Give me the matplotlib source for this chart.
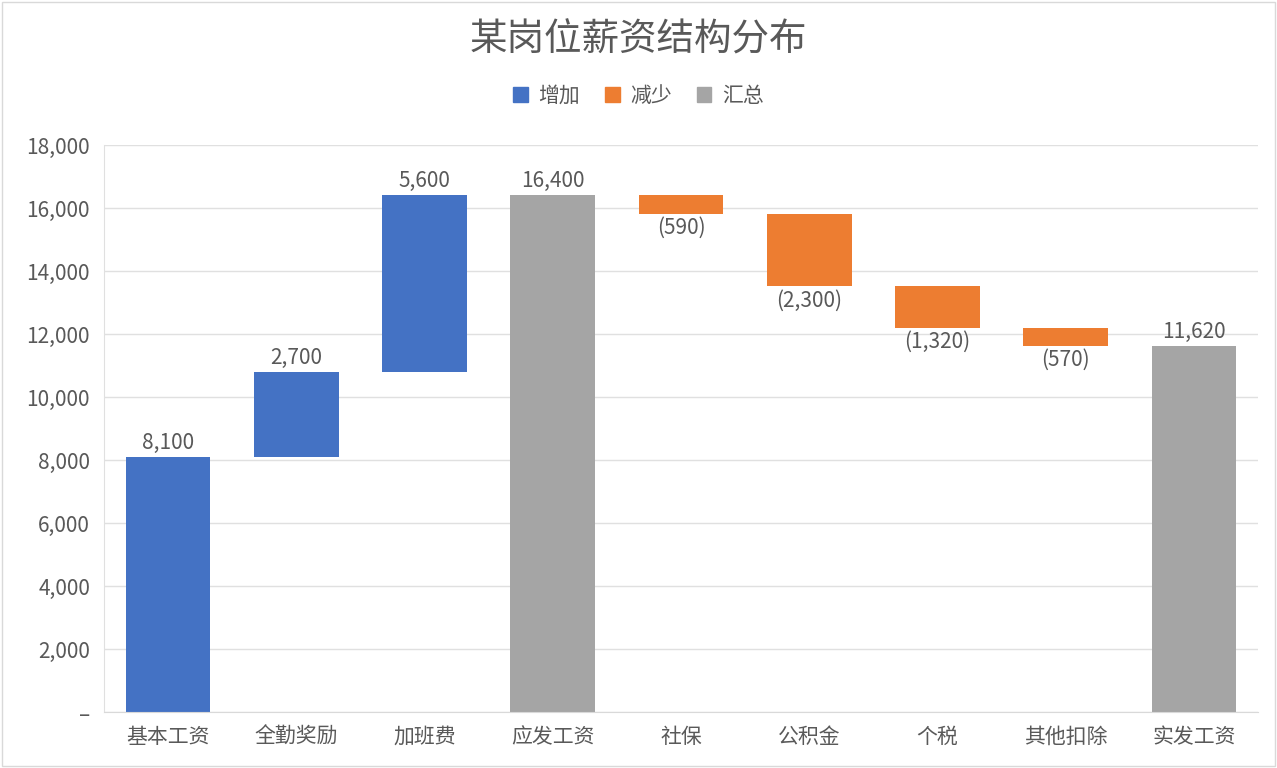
import matplotlib
matplotlib.use("Agg")
import matplotlib.pyplot as plt
from matplotlib.patches import Patch, Rectangle
from matplotlib.ticker import FuncFormatter

plt.rcParams['font.family'] = ['Noto Sans CJK SC', 'DejaVu Sans']

categories = ["基本工资", "全勤奖励", "加班费", "应发工资", "社保", "公积金", "个税", "其他扣除", "实发工资"]
changes = [8100, 2700, 5600, 16400, -590, -2300, -1320, -570, 11620]
kinds = ["inc", "inc", "inc", "total", "dec", "dec", "dec", "dec", "total"]
legend_labels = ["增加", "减少", "汇总"]
title = "某岗位薪资结构分布"

colors = {"inc": "#4472C4", "dec": "#ED7D31", "total": "#A5A5A5"}
text_color = "#595959"
fs = 15

fig = plt.figure(figsize=(12.77, 7.68), dpi=100)
ax = fig.add_axes([104/1277, 1-712/768, (1258-104)/1277, (712-145)/768])

running = 0
for i, (v, k) in enumerate(zip(changes, kinds)):
    if k == "total":
        running = v
        ax.bar(i, v, bottom=0, width=0.66, color=colors[k])
        ax.text(i, v + 100, f"{v:,}", ha="center", va="bottom", fontsize=fs, color=text_color)
    elif k == "inc":
        ax.bar(i, v, bottom=running, width=0.66, color=colors[k])
        running += v
        ax.text(i, running + 100, f"{v:,}", ha="center", va="bottom", fontsize=fs, color=text_color)
    else:
        running += v
        ax.bar(i, -v, bottom=running, width=0.66, color=colors[k])
        ax.text(i, running - 100, f"({-v:,})", ha="center", va="top", fontsize=fs, color=text_color)

ax.set_ylim(0, 18000)
ax.set_xlim(-0.5, len(categories) - 0.5)
ax.set_yticks(range(0, 18001, 2000))
ax.yaxis.set_major_formatter(FuncFormatter(lambda y, p: "–" if y == 0 else f"{int(y):,}"))
ax.set_xticks(range(len(categories)))
ax.set_xticklabels(categories)
ax.tick_params(axis="both", length=0, labelsize=fs, colors=text_color, pad=10)
ax.grid(axis="y", color="#E0E0E0", linewidth=1)
ax.set_axisbelow(True)
for s in ["top", "right"]:
    ax.spines[s].set_visible(False)
ax.spines["left"].set_color("#E0E0E0")
ax.spines["bottom"].set_color("#D9D9D9")

fig.text(0.5, 1 - 40/768, title, ha="center", va="center", fontsize=27, color=text_color)
handles = [Patch(color=colors[k]) for k in ["inc", "dec", "total"]]
fig.legend(handles, legend_labels, loc="center", bbox_to_anchor=(0.5, 1 - 96/768), ncol=3,
           frameon=False, fontsize=fs, handlelength=0.7, handleheight=0.7, handletextpad=0.5,
           columnspacing=1.2, labelcolor=text_color)

fig.patches.append(Rectangle((2/1277, 2/768), 1 - 4/1277, 1 - 4/768, transform=fig.transFigure,
                             fill=False, edgecolor="#D9D9D9", linewidth=1))

fig.savefig("out.png", dpi=100)
